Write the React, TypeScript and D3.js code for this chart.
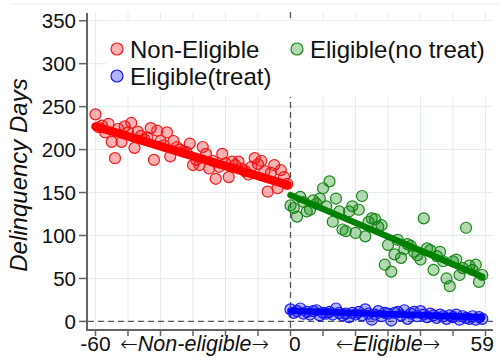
import React from "react";
import * as d3 from "d3";

// ---- data ----
const redX = d3.range(-60, 0);
const redY = [241, 226, 228, 220, 230, 209, 190, 224, 209, 227, 220, 231, 202, 221, 216, 212, 214, 225, 188, 222,
  210, 205, 220, 192, 210, 203, 200, 198, 197, 207, 182, 188, 182, 203, 195, 178, 187, 166, 180, 195,
  184, 168, 186, 182, 186, 178, 175, 171, 180, 190, 183, 187, 175, 151, 173, 182, 155, 176, 168, 160];
const greenX = d3.range(0, 60);
const greenY = [135, 132, 122, 145, 139, 128, 130, 141, 137, 143, 155, 134, 163, 116, 143, 128, 107, 105, 128, 134,
  103, 130, 146, 99, 116, 120, 119, 110, 112, 66, 89, 58, 78, 95, 74, 84, 90, 88, 81, 77,
  72, 120, 85, 83, 60, 76, 81, 70, 50, 41, 70, 72, 54, 62, 109, 65, 60, 66, 46, 54];
const blueX = d3.range(0, 60);
const blueY = [14, 10, 12, 15, 9, 11, 8, 12, 13, 7, 10, 9, 11, 8, 15, 10, 7, 9, 5, 10,
  8, 11, 7, 14, 9, 2, 8, 12, 6, 10, 9, 1, 10, 11, 7, 13, 3, 9, 11, 6,
  12, 8, 5, 9, 7, 4, 8, 6, 3, 7, 5, 8, 2, 6, 4, 3, 6, 2, 5, 3];
const redFit: [number, number][] = [[-60, 227], [-1, 159]];
const greenFit: [number, number][] = [[0, 147], [59, 52]];
const blueFit: [number, number][] = [[0, 12.4], [59, 4.7]];
const xTicks = d3.range(-60, 61, 10);
const yTicks = d3.range(0, 351, 50);
const xTickLabels: [number, string][] = [[-60, "-60"], [1.3, "0"], [59, "59"]];
const legendItems = ["Non-Eligible", "Eligible(treat)", "Eligible(no treat)"];

const W = 500, H = 358;
const FONT = "'Liberation Sans', Arial, Helvetica, sans-serif";
const ARROW_FONT = "'DejaVu Sans', sans-serif";

export default function App() {
  const x = d3.scaleLinear().domain([-62.3, 62.3]).range([88, 493]);
  const y = d3.scaleLinear().domain([-10, 359]).range([330, 13]);
  const line = d3.line<[number, number]>().x(d => x(d[0])).y(d => y(d[1]));
  const gridColor = "#e3ecee";

  const series = [
    { xs: redX, ys: redY, stroke: "#f01818", fill: "rgba(255,0,0,0.3)" },
    { xs: greenX, ys: greenY, stroke: "#1a861a", fill: "rgba(0,128,0,0.3)" },
    { xs: blueX, ys: blueY, stroke: "#1a1aff", fill: "rgba(0,0,255,0.3)" },
  ];

  const arrow = (ch: string) => (
    <tspan fontFamily={ARROW_FONT} fontWeight={200} fontSize={21}>{ch}</tspan>
  );

  return (
    <svg width={W} height={H} style={{ position: "absolute", left: 0, top: 0, background: "#fff" }}
      fontFamily={FONT}>
      <rect x={0} y={0} width={W} height={H} fill="#fff" />
      <line x1={10} x2={W} y1={4} y2={4} stroke="#e6eef0" strokeWidth={1} />
      {/* grid */}
      {xTicks.map(t => (
        <line key={"gx" + t} x1={x(t)} x2={x(t)} y1={12} y2={330} stroke={gridColor} strokeWidth={1} />
      ))}
      {yTicks.map(t => (
        <line key={"gy" + t} x1={88} x2={493} y1={y(t)} y2={y(t)} stroke={gridColor} strokeWidth={1} />
      ))}
      {/* dashed reference lines */}
      <line x1={x(0)} x2={x(0)} y1={12} y2={330} stroke="#555" strokeWidth={1.3} strokeDasharray="6,4" />
      <line x1={88} x2={493} y1={y(0)} y2={y(0)} stroke="#555" strokeWidth={1.3} strokeDasharray="6,4" />
      {/* legend background */}
      <rect x={106} y={21} width={387} height={76} fill="#fff" />
      {/* points */}
      {series.map((s, si) => (
        <g key={"s" + si}>
          {s.xs.map((xv, i) => (
            <circle key={i} cx={x(xv)} cy={y(s.ys[i])} r={5.5} fill={s.fill} stroke={s.stroke} strokeWidth={1.2} />
          ))}
        </g>
      ))}
      {/* fit lines */}
      <path d={line(redFit) || ""} stroke="#ff0000" strokeWidth={8.5} strokeLinecap="round" fill="none" />
      <path d={line(greenFit) || ""} stroke="#008000" strokeWidth={6.5} strokeLinecap="round" fill="none" />
      <path d={line(blueFit) || ""} stroke="#0000ff" strokeWidth={6.5} strokeLinecap="round" fill="none" />
      {/* axes */}
      <line x1={87} x2={87} y1={13} y2={331} stroke="#666" strokeWidth={2} />
      <line x1={87} x2={493} y1={330} y2={330} stroke="#666" strokeWidth={2} />
      {yTicks.map(t => (
        <g key={"yt" + t}>
          <line x1={79} x2={87} y1={y(t)} y2={y(t)} stroke="#666" strokeWidth={1.5} />
          <text x={76} y={y(t)} dy="0.36em" textAnchor="end" fontSize={20.5} fill="#111">{t}</text>
        </g>
      ))}
      {xTicks.map(t => (
        <line key={"xt" + t} x1={x(t)} x2={x(t)} y1={330} y2={336} stroke="#666" strokeWidth={1.5} />
      ))}
      {xTickLabels.map(([v, s]) => (
        <text key={"xl" + s} x={x(v)} y={351} textAnchor="middle" fontSize={21} fill="#111">{s}</text>
      ))}
      <text x={x(-29.5)} y={351} textAnchor="middle" fontSize={21.5} fill="#111">
        {arrow("←")}<tspan fontStyle="italic">Non-eligible</tspan>{arrow("→")}
      </text>
      <text x={x(30)} y={351} textAnchor="middle" fontSize={21.5} fill="#111">
        {arrow("←")}<tspan fontStyle="italic">Eligible</tspan>{arrow("→")}
      </text>
      {/* y title */}
      <text transform={`translate(27,175) rotate(-90)`} textAnchor="middle" fontSize={24} fontStyle="italic" fill="#111">
        Delinquency Days
      </text>
      {/* legend */}
      {[
        { label: legendItems[0], mx: 117, my: 49, s: series[0] },
        { label: legendItems[1], mx: 117, my: 76, s: series[2] },
        { label: legendItems[2], mx: 297, my: 49, s: series[1] },
      ].map((l, i) => (
        <g key={"lg" + i}>
          <circle cx={l.mx} cy={l.my} r={6} fill={l.s.fill} stroke={l.s.stroke} strokeWidth={1.2} />
          <text x={l.mx + 13} y={l.my + 8.5} fontSize={24} fill="#111">{l.label}</text>
        </g>
      ))}
    </svg>
  );
}
